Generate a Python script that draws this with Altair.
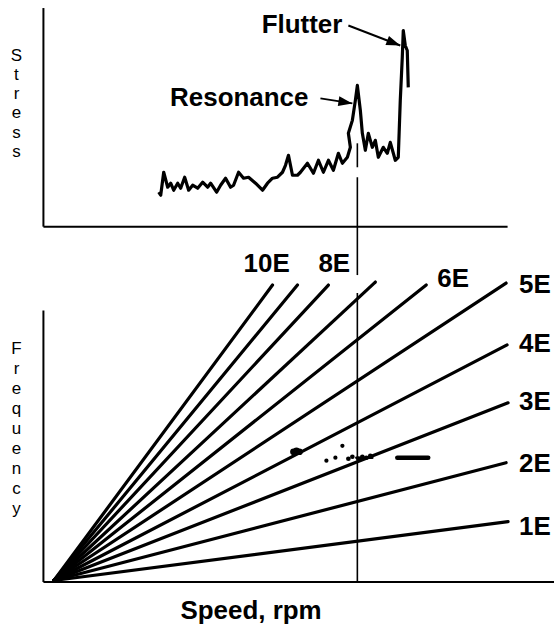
import altair as alt
import pandas as pd

# ---------------- values ----------------
# Speed in arbitrary units (0 = vertical axis); stress / frequency in arbitrary units.
stress_speed = [116, 118, 121, 125, 128, 131, 135, 138, 142, 146, 150, 155, 160, 165, 168,
                174, 178, 183, 188, 191, 196, 201, 206, 213, 220, 225, 230, 235, 240, 243,
                246, 250, 255, 258, 265, 271, 276, 281, 286, 291, 296, 300, 305, 308, 306,
                310, 313, 315, 318, 320, 323, 326, 330, 333, 336, 341, 345, 348, 353, 356,
                358, 360, 361, 363, 365, 366]
stress_value = [34, 31, 54, 39, 43, 36, 43, 38, 49, 36, 41, 38, 44, 39, 43,
                34, 41, 48, 39, 41, 54, 48, 49, 43, 36, 43, 48, 49, 54, 61,
                71, 51, 51, 54, 63, 53, 66, 54, 66, 56, 73, 63, 69, 79, 93,
                106, 126, 141, 116, 93, 76, 93, 79, 86, 69, 79, 73, 84, 66, 69,
                126, 169, 196, 181, 176, 139]

resonance_speed = 315  # vertical marker line

fan_names = ["1E", "2E", "3E", "4E", "5E", "6E", "7E", "8E", "9E", "10E"]
fan_start_speed = [11] * 10
fan_start_freq = [1] * 10
fan_end_speed = [466, 464, 466, 465, 464, 384, 333, 286, 255, 230]
fan_end_freq = [60, 119, 179, 237, 299, 297, 300, 297, 297, 297]

label_names = ["10E", "8E", "6E", "5E", "4E", "3E", "2E", "1E"]
label_speed = [201, 276, 395, 477, 477, 477, 477, 477]
label_freq = [310, 310, 295, 289, 230, 172, 110, 47]

test_speed = [251, 254, 257, 284, 293, 300, 306, 310, 316, 320, 324, 328]
test_freq = [130, 131, 130, 121, 124, 136, 123, 125, 123, 125, 124, 126]
test_size = [45, 45, 45, 18, 18, 18, 22, 22, 22, 22, 22, 22]

dash_speed_from = [314]
dash_speed_to = [330]
dash_speed2_from = [355]
dash_speed2_to = [386]
dash_freq = [124]

annot_text = ["Resonance", "Flutter"]
annot_speed = [266, 300]
annot_stress = [120, 194]
arrow_from_speed = [278, 306]
arrow_from_stress = [128, 201]
arrow_to_speed = [310, 358]
arrow_to_stress = [123, 181]
arrow_angle = [9, 21]

# ---------------- tables ----------------
stress_df = pd.DataFrame({"i": range(len(stress_speed)), "speed": stress_speed, "stress": stress_value})
fan_df = pd.DataFrame({"name": fan_names, "speed": fan_start_speed, "freq": fan_start_freq,
                       "speed2": fan_end_speed, "freq2": fan_end_freq})
lab_df = pd.DataFrame({"name": label_names, "speed": label_speed, "freq": label_freq})
test_df = pd.DataFrame({"speed": test_speed, "freq": test_freq, "size": test_size})
dash_df = pd.DataFrame({"speed": dash_speed_from + dash_speed2_from,
                        "speed2": dash_speed_to + dash_speed2_to,
                        "freq": dash_freq * 2, "w": [2.5, 4.5]})
annot_df = pd.DataFrame({"text": annot_text, "speed": annot_speed, "stress": annot_stress})
arrow_df = pd.DataFrame({"speed": arrow_from_speed, "stress": arrow_from_stress,
                         "speed2": arrow_to_speed, "stress2": arrow_to_stress, "angle": arrow_angle})
vtop_df = pd.DataFrame({"speed": [resonance_speed, resonance_speed], "stress": [59, -49], "stress2": [83, 49]})
vbot_df = pd.DataFrame({"speed": [resonance_speed], "freq": [0], "freq2": [289]})

FONT = "Liberation Sans"
BLACK = "#000000"


def plain_axis(**kw):
    return alt.Axis(ticks=False, labels=False, grid=False, domainColor=BLACK, domainWidth=2, **kw)


title_style = dict(titleAngle=0, titleAlign="center", titleBaseline="top", titleX=-27,
                   titleFont=FONT, titleFontSize=17, titleFontWeight="normal", titleColor=BLACK)

top_xscale = alt.Scale(domain=[0, 465], nice=False, zero=False)
top_yscale = alt.Scale(domain=[0, 219], nice=False, zero=False)
top_xaxis = plain_axis(title=None)
top_yaxis = plain_axis(title=list("Stress"), titleY=40, titleLineHeight=19.2, **title_style)

# ---------------- top panel: stress vs speed ----------------
tx = alt.X("speed:Q", scale=top_xscale, axis=top_xaxis)
ty = alt.Y("stress:Q", scale=top_yscale, axis=top_yaxis)

stress_line = alt.Chart(stress_df).mark_line(color=BLACK, strokeWidth=3.2, strokeJoin="round").encode(
    x=tx, y=ty, order="i:Q")
vtop = alt.Chart(vtop_df).mark_rule(color=BLACK, strokeWidth=1.6).encode(x=tx, y=ty, y2="stress2:Q")
arrow_line = alt.Chart(arrow_df).mark_rule(color=BLACK, strokeWidth=2).encode(
    x=tx, y=ty, x2="speed2:Q", y2="stress2:Q")
arrow_head = alt.Chart(arrow_df).mark_point(
    shape="M0,0 L-2,-0.7 L-2,0.7 Z", filled=True, size=196, color=BLACK, opacity=1).encode(
    x=alt.X("speed2:Q", scale=top_xscale, axis=top_xaxis),
    y=alt.Y("stress2:Q", scale=top_yscale, axis=top_yaxis),
    angle=alt.Angle("angle:Q", scale=None))
annot = alt.Chart(annot_df).mark_text(font=FONT, fontSize=26, fontWeight="bold", align="right",
                                      baseline="alphabetic", color=BLACK).encode(x=tx, y=ty, text="text:N")

top = alt.layer(stress_line, vtop, arrow_line, arrow_head, annot).properties(width=465, height=219)

# ---------------- bottom panel: frequency vs speed (Campbell diagram) ----------------
bx = alt.X("speed:Q", scale=alt.Scale(domain=[0, 512], nice=False, zero=False),
           axis=plain_axis(title="Speed, rpm", titleFont=FONT, titleFontSize=26, titleFontWeight="bold",
                           titleColor=BLACK, titleX=208, titleY=37, titleAlign="center",
                           titleBaseline="alphabetic", titleAngle=0))
by = alt.Y("freq:Q", scale=alt.Scale(domain=[0, 272], nice=False, zero=False),
           axis=plain_axis(title=list("Frequency"), titleY=31, titleLineHeight=20, **title_style))

fan = alt.Chart(fan_df).mark_rule(color=BLACK, strokeWidth=3.2, strokeCap="round").encode(
    x=bx, y=by, x2="speed2:Q", y2="freq2:Q")
vbot = alt.Chart(vbot_df).mark_rule(color=BLACK, strokeWidth=1.6).encode(x=bx, y=by, y2="freq2:Q")
tests = alt.Chart(test_df).mark_circle(color=BLACK, opacity=1).encode(
    x=bx, y=by, size=alt.Size("size:Q", scale=None))
dashes = alt.Chart(dash_df).mark_rule(color=BLACK, strokeCap="round").encode(
    x=bx, y=by, x2="speed2:Q", strokeWidth=alt.StrokeWidth("w:Q", scale=None))
labels = alt.Chart(lab_df).mark_text(font=FONT, fontSize=26, fontWeight="bold", align="left",
                                     baseline="alphabetic", color=BLACK).encode(x=bx, y=by, text="name:N")

bottom = alt.layer(fan, vbot, tests, dashes, labels).properties(width=512, height=272)

chart = alt.vconcat(top, bottom, spacing=84, bounds="flush").properties(
    padding={"left": 10, "top": 7, "right": 0, "bottom": 0},
    background="white",
).configure_view(stroke=None)

chart.save("out.html", embed_options={"renderer": "svg", "actions": False})
